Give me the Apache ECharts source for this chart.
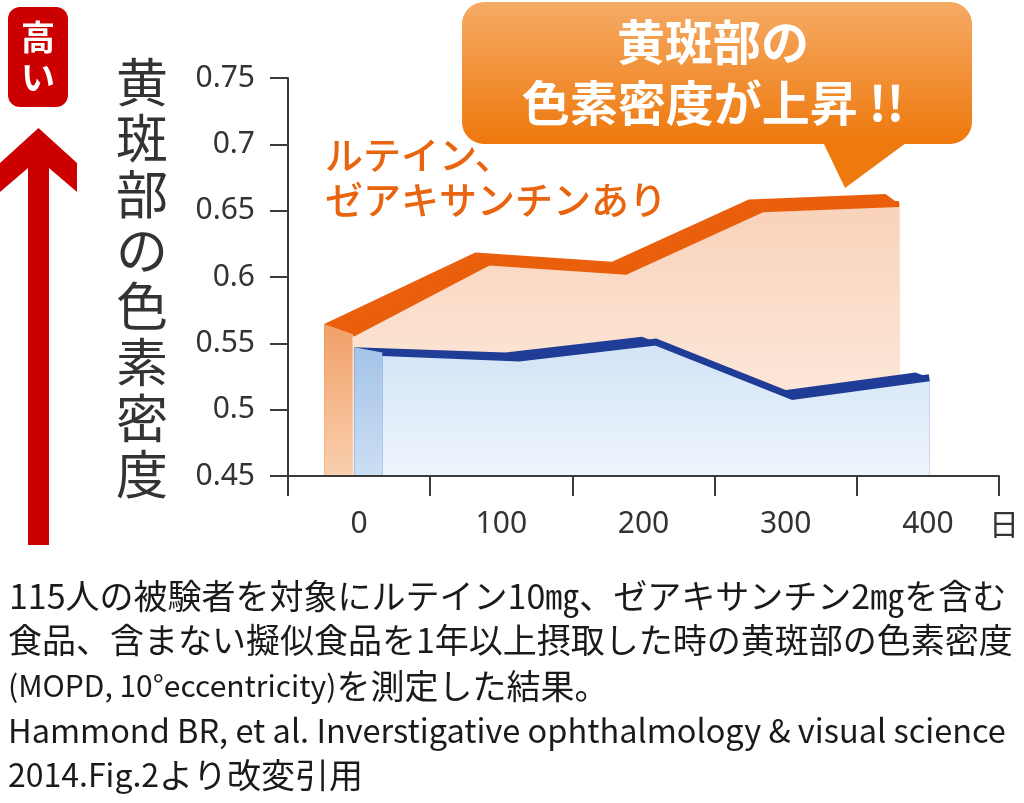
<!DOCTYPE html>
<html lang="ja">
<head>
<meta charset="UTF-8">
<title>黄斑部の色素密度</title>
<script src="https://cdn.jsdelivr.net/npm/echarts@6/dist/echarts.min.js"></script>
<style>
    html, body { margin: 0; padding: 0; background: #fff; }
    #main { width: 1024px; height: 803px; }
</style>
</head>
<body>
<div id="main"></div>
<script type="text/javascript">
    // 測定日（x軸のカテゴリ）
    var days = [0, 100, 200, 300, 400];
    // ルテイン、ゼアキサンチンあり
    var withLutein = [0.557, 0.611, 0.604, 0.651, 0.655];
    // ルテイン、ゼアキサンチンなし
    var withoutLutein = [0.543, 0.539, 0.551, 0.510, 0.524];
    // y軸の目盛り
    var yMin = 0.45, yMax = 0.75, yStep = 0.05;

    var CJK = '"Noto Sans CJK JP", "Noto Sans", sans-serif';
    var NUM = '"Noto Sans", "DejaVu Sans", sans-serif';

    // 立体風の奥行き（日数と値の単位）
    var FACE_DEPTH = 20.5;
    var BACK_SHIFT = 10;

    function layer(values, shift, rise) {
        var front = values.map(function (v, i) { return [days[i] + shift, v]; });
        var first = front[0];
        var last = front[front.length - 1];
        var corner = [first[0] - FACE_DEPTH, first[1] + rise];
        var back = [corner];
        front.slice(1).forEach(function (p) {
            back.push([p[0] - BACK_SHIFT, p[1] + rise]);
        });
        back.push(last);
        return { front: front, back: back, side: [corner, first] };
    }

    function vgrad(top, bottom) {
        return new echarts.graphic.LinearGradient(0, 0, 0, 1, [
            { offset: 0, color: top },
            { offset: 1, color: bottom }
        ]);
    }

    function shape(data, z, fill, line) {
        return {
            type: 'line',
            xAxisIndex: 1,
            data: data,
            z: z,
            symbol: 'none',
            silent: true,
            animation: false,
            lineStyle: line || { opacity: 0 },
            areaStyle: { color: fill, opacity: 1, origin: 'start' }
        };
    }

    var orange = layer(withLutein, -13, 0.0075);
    var blue = layer(withoutLutein, 9, 0.004);

    var axisColor = '#3a3a3a';

    var myChart = echarts.init(document.getElementById('main'));
    myChart.setOption({
        animation: false,
        grid: { left: 288, right: 25, top: 78, bottom: 327 },
        xAxis: [{
            type: 'category',
            data: days.map(String),
            boundaryGap: true,
            z: 10,
            axisLine: { onZero: false, lineStyle: { color: axisColor, width: 2 } },
            axisTick: { show: true, alignWithLabel: false, interval: 0, length: 20,
                lineStyle: { color: axisColor, width: 2 } },
            axisLabel: { fontSize: 30, color: '#333', margin: 33, fontFamily: NUM }
        }, {
            type: 'value',
            min: -60,
            max: 460,
            show: false
        }],
        yAxis: {
            type: 'value',
            min: yMin,
            max: yMax,
            interval: yStep,
            z: 10,
            axisLine: { show: true, onZero: false, lineStyle: { color: axisColor, width: 2 } },
            axisTick: { show: true, length: 18, lineStyle: { color: axisColor, width: 2 } },
            axisLabel: { fontSize: 30, color: '#333', margin: 33, fontFamily: NUM },
            splitLine: { show: false }
        },
        series: [
            shape(orange.back, 2, '#e95f0c'),
            shape(orange.side, 3, vgrad('#f1a068', '#f9cfae')),
            shape(orange.front, 4, vgrad('#f9d2ba', '#fef0e6'),
                { color: '#e95f0c', width: 6, join: 'miter' }),
            shape(blue.back, 5, '#1f3d96'),
            shape(blue.side, 6, vgrad('#a4c3e8', '#cbdff4')),
            shape(blue.front, 7, vgrad('#d2e3f6', '#eef5fc'),
                { color: '#1f3d96', width: 7, join: 'miter' })
        ],
        graphic: [
            // 左の「高い」と矢印
            { type: 'rect', shape: { x: 8, y: 7, width: 60, height: 100, r: 12 }, style: { fill: '#cc0000' } },
            { type: 'text', style: { text: '高\nい', x: 38, y: 57, align: 'center', verticalAlign: 'middle',
                fill: '#fff', fontSize: 34, fontWeight: 'bold', lineHeight: 40, fontFamily: CJK } },
            { type: 'polygon', shape: { points: [[38.5, 128], [77, 163], [77, 192], [49, 168], [49, 545],
                [28, 545], [28, 168], [0, 192], [0, 163]] }, style: { fill: '#cc0000' } },
            // y軸名
            { type: 'text', style: { text: '黄\n斑\n部\nの\n色\n素\n密\n度', x: 142, y: 54.5, align: 'center',
                verticalAlign: 'top', fontSize: 52, lineHeight: 56, fill: '#333', fontFamily: CJK } },
            // 吹き出し
            { type: 'rect', shape: { x: 462, y: 2, width: 510, height: 142, r: 22 },
                style: { fill: vgrad('#f5ab65', '#ee780c') } },
            { type: 'polygon', shape: { points: [[822, 140], [910, 140], [845, 188]] }, style: { fill: '#ee790d' } },
            { type: 'text', style: { text: '黄斑部の\n色素密度が上昇 !!', x: 713, y: 11.5, align: 'center',
                verticalAlign: 'top', fill: '#fff', fontSize: 48, fontWeight: 'bold', lineHeight: 61, fontFamily: CJK } },
            // 系列名
            { type: 'text', style: { text: 'ルテイン、\nゼアキサンチンあり', x: 325, y: 132.5, fill: '#e8640e',
                fontSize: 38, fontWeight: 500, lineHeight: 45, fontFamily: CJK } },
            { type: 'text', style: { text: 'ルテイン、\nゼアキサンチンなし', x: 405, y: 371.5, fill: '#24409b',
                fontSize: 38, fontWeight: 500, lineHeight: 47, fontFamily: CJK } },
            // x軸の単位
            { type: 'text', style: { text: '日', x: 1004, y: 524, align: 'center', verticalAlign: 'middle',
                fontSize: 30, fill: '#333', fontFamily: CJK } },
            // 注釈
            { type: 'text', style: { text: '115人の被験者を対象にルテイン10㎎、ゼアキサンチン2㎎を含む', x: 9, y: 596,
                verticalAlign: 'middle', fontSize: 34, fill: '#1a1a1a', fontFamily: CJK } },
            { type: 'text', style: { text: '食品、含まない擬似食品を1年以上摂取した時の黄斑部の色素密度', x: 8, y: 640,
                verticalAlign: 'middle', fontSize: 34, fill: '#1a1a1a', fontFamily: CJK } },
            { type: 'text', style: { text: '{l|(MOPD, 10°eccentricity)}を測定した結果。', x: 8, y: 686,
                verticalAlign: 'middle', fontSize: 34, fill: '#1a1a1a', fontFamily: CJK,
                rich: { l: { fontSize: 30, fill: '#1a1a1a', fontFamily: CJK } } } },
            { type: 'text', style: { text: 'Hammond BR, et al. Inverstigative ophthalmology & visual science', x: 8, y: 731,
                verticalAlign: 'middle', fontSize: 32.5, fill: '#1a1a1a', fontFamily: CJK } },
            { type: 'text', style: { text: '{l|2014.Fig.2}より改変引用', x: 8, y: 775,
                verticalAlign: 'middle', fontSize: 34, fill: '#1a1a1a', fontFamily: CJK,
                rich: { l: { fontSize: 32, fill: '#1a1a1a', fontFamily: CJK } } } }
        ]
    });
</script>
</body>
</html>
